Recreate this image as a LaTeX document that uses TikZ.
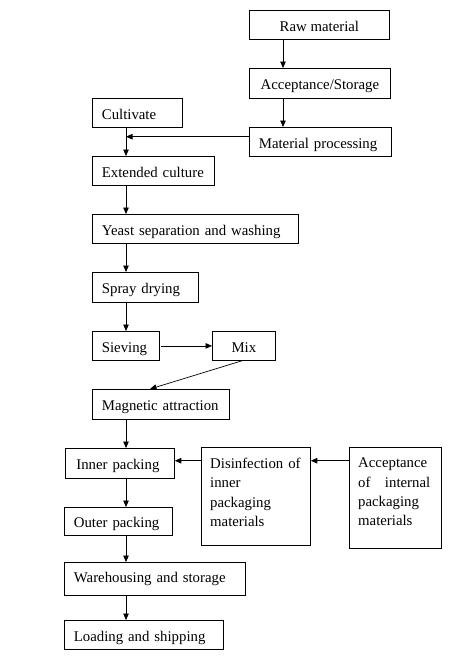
\documentclass[tikz,border=0pt]{standalone}
\usepackage{fontspec}
\setmainfont{Liberation Serif}
\usetikzlibrary{arrows.meta}
\begin{document}
\begin{tikzpicture}[x=1pt,y=-1pt,
  font=\fontsize{14.8}{19.2}\selectfont,
  bx/.style={draw, line width=0.8pt, anchor=north west, inner xsep=9.5pt, inner ysep=0pt, align=left, text height=13.6pt, text depth=1pt},
  cbx/.style={draw, line width=0.8pt, anchor=north west, inner xsep=0pt, inner ysep=0pt, align=center, text height=13.6pt, text depth=1pt},
  tall/.style={draw, line width=0.8pt, anchor=north west, inner sep=0pt},
  tx/.style={anchor=north west, inner sep=0pt, align=left},
  arr/.style={line width=0.7pt, -{Triangle[length=6.5pt,width=5.5pt]}}
]
\useasboundingbox (0,0) rectangle (474,659);
% boxes
\node[cbx, minimum width=140pt, minimum height=29pt] (raw) at (249,10) {Raw material};
\node[cbx, minimum width=141pt, minimum height=30pt] (acc) at (249,68) {Acceptance/Storage};
\node[bx, text width=123pt, minimum height=29pt] (mat) at (249,127) {Material processing};
\node[bx, text width=71pt, minimum height=29pt] (cult) at (92,98) {Cultivate};
\node[bx, text width=103pt, minimum height=29pt] (ext) at (92,156) {Extended culture};
\node[bx, text width=187pt, minimum height=29pt] (yeast) at (92,214) {Yeast separation and washing};
\node[bx, text width=87pt, minimum height=30pt] (spray) at (92,272) {Spray drying};
\node[bx, text width=48pt, minimum height=29pt] (sieve) at (92,331) {Sieving};
\node[cbx, minimum width=63pt, minimum height=29pt] (mix) at (212,331) {Mix};
\node[bx, text width=118pt, minimum height=30pt] (mag) at (92,389) {Magnetic attraction};
\node[bx, inner xsep=11pt, text width=87pt, minimum height=30pt] (inner) at (65,448) {Inner packing};
\node[bx, text width=89pt, minimum height=28pt] (outer) at (64,507) {Outer packing};
\node[bx, text width=162pt, minimum height=33pt, text height=10pt, text depth=3.6pt] (ware) at (64,562) {Warehousing and storage};
\node[bx, text width=140pt, minimum height=29pt] (load) at (64,620) {Loading and shipping};
\node[tall, minimum width=109pt, minimum height=98pt] (dis) at (201,447) {};
\node[tx, text width=95pt] (distext) at (210,458) {Disinfection of\\inner\\packaging\\materials};
\node[tall, minimum width=92pt, minimum height=101pt] (acc2) at (349,447) {};
\node[tx, text width=72pt] (acc2text) at (358,458) {Acceptance\\of\hfill internal\\packaging\\materials};
% guide coordinates
\coordinate (rx) at (283,0);
\coordinate (vx) at (126,0);
\coordinate (ay) at (0,136.7);
\coordinate (py) at (0,460.7);
% connectors
\draw[arr] (rx |- raw.south) -- (rx |- acc.north);
\draw[arr] (rx |- acc.south) -- (rx |- mat.north);
\draw[arr] (mat.west |- ay) -- (vx |- ay);
\draw[arr] (vx |- cult.south) -- (vx |- ext.north);
\draw[arr] (vx |- ext.south) -- (vx |- yeast.north);
\draw[arr] (vx |- yeast.south) -- (vx |- spray.north);
\draw[arr] (vx |- spray.south) -- (vx |- sieve.north);
\draw[arr] ([xshift=1.5pt]sieve.east) -- (mix.west);
\draw[arr] ([xshift=-2pt]mix.south) -- ([xshift=58pt]mag.north west);
\draw[arr] (vx |- mag.south) -- (vx |- inner.north);
\draw[arr] (vx |- inner.south) -- (vx |- outer.north);
\draw[arr] (vx |- outer.south) -- (vx |- ware.north);
\draw[arr] (vx |- ware.south) -- (vx |- load.north);
\draw[arr] (dis.west |- py) -- (inner.east |- py);
\draw[arr] (acc2.west |- py) -- (dis.east |- py);
\end{tikzpicture}
\end{document}
